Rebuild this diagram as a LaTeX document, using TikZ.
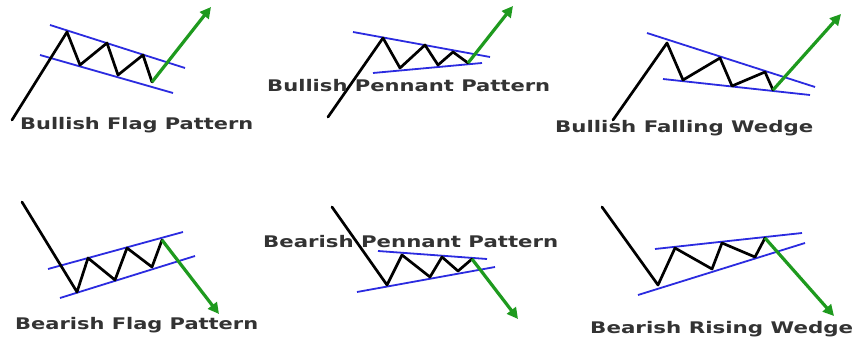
\documentclass[tikz,border=0pt]{standalone}
\usepackage{fontspec}
\setmainfont{DejaVu Sans}
\usetikzlibrary{arrows.meta}
\definecolor{lblue}{HTML}{2B2BE0}
\definecolor{lgreen}{HTML}{1E9A1E}
\definecolor{ltext}{HTML}{333333}
\tikzset{
  price/.style={draw=black, line width=2.7pt, line join=round, line cap=round},
  trend/.style={draw=lblue, line width=1.8pt},
  breakout/.style={draw=lgreen, line width=3.2pt, -{Triangle[length=11pt,width=11pt]}},
  lbl/.style={anchor=base west, inner sep=0pt, text=ltext, font=\bfseries\fontsize{16}{16}\selectfont}
}
\newcommand{\wlabel}[2]{\resizebox{#1}{\height}{#2}}
\begin{document}
\begin{tikzpicture}[x=1pt,y=-1pt]
\useasboundingbox (0,0) rectangle (858,339);
\fill[white] (0,0) rectangle (858,339);

% ---------- Panel 1: Bullish Flag ----------
\coordinate (p1a) at (12,120);
\coordinate (p1b) at (67,32);
\coordinate (p1c) at (80,65);
\coordinate (p1d) at (107,43);
\coordinate (p1e) at (118,75);
\coordinate (p1f) at (143,55);
\coordinate (p1g) at (152,82);
\coordinate (p1t) at (211,7);
\coordinate (p1u1) at (50,25);
\coordinate (p1u2) at (185,68);
\coordinate (p1l1) at (40,55);
\coordinate (p1l2) at (173,93);
\draw[trend] (p1u1) -- (p1u2);
\draw[trend] (p1l1) -- (p1l2);
\draw[price] (p1a) -- (p1b) -- (p1c) -- (p1d) -- (p1e) -- (p1f) -- (p1g);
\draw[breakout] (p1g) -- (p1t);
\node[lbl] (t1) at (20,130) {\wlabel{233pt}{Bullish Flag Pattern}};

% ---------- Panel 2: Bullish Pennant ----------
\coordinate (p2a) at (328,117);
\coordinate (p2b) at (383,38);
\coordinate (p2c) at (400,68);
\coordinate (p2d) at (425,45);
\coordinate (p2e) at (438,65);
\coordinate (p2f) at (453,52);
\coordinate (p2g) at (468,63);
\coordinate (p2t) at (513,6);
\coordinate (p2u1) at (353,32);
\coordinate (p2u2) at (490,57);
\coordinate (p2l1) at (373,73);
\coordinate (p2l2) at (482,63);
\draw[trend] (p2u1) -- (p2u2);
\draw[trend] (p2l1) -- (p2l2);
\draw[price] (p2a) -- (p2b) -- (p2c) -- (p2d) -- (p2e) -- (p2f) -- (p2g);
\draw[breakout] (p2g) -- (p2t);
\node[lbl] (t2) at (267,91.5) {\wlabel{283pt}{Bullish Pennant Pattern}};

% ---------- Panel 3: Bullish Falling Wedge ----------
\coordinate (p3a) at (613,120);
\coordinate (p3b) at (667,43);
\coordinate (p3c) at (683,80);
\coordinate (p3d) at (720,58);
\coordinate (p3e) at (732,86);
\coordinate (p3f) at (765,72);
\coordinate (p3g) at (773,90);
\coordinate (p3t) at (841,14);
\coordinate (p3u1) at (647,33);
\coordinate (p3u2) at (815,87);
\coordinate (p3l1) at (663,79);
\coordinate (p3l2) at (810,95);
\draw[trend] (p3u1) -- (p3u2);
\draw[trend] (p3l1) -- (p3l2);
\draw[price] (p3a) -- (p3b) -- (p3c) -- (p3d) -- (p3e) -- (p3f) -- (p3g);
\draw[breakout] (p3g) -- (p3t);
\node[lbl] (t3) at (555,133) {\wlabel{258pt}{Bullish Falling Wedge}};

% ---------- Panel 4: Bearish Flag ----------
\coordinate (p4a) at (22,202);
\coordinate (p4b) at (77,292);
\coordinate (p4c) at (88,258);
\coordinate (p4d) at (115,280);
\coordinate (p4e) at (127,248);
\coordinate (p4f) at (152,267);
\coordinate (p4g) at (162,240);
\coordinate (p4t) at (219,314);
\coordinate (p4u1) at (48,269);
\coordinate (p4u2) at (183,232);
\coordinate (p4l1) at (60,298);
\coordinate (p4l2) at (195,256);
\draw[trend] (p4u1) -- (p4u2);
\draw[trend] (p4l1) -- (p4l2);
\draw[price] (p4a) -- (p4b) -- (p4c) -- (p4d) -- (p4e) -- (p4f) -- (p4g);
\draw[breakout] (p4g) -- (p4t);
\node[lbl] (t4) at (15,329) {\wlabel{243pt}{Bearish Flag Pattern}};

% ---------- Panel 5: Bearish Pennant ----------
\coordinate (p5a) at (332,207);
\coordinate (p5b) at (387,285);
\coordinate (p5c) at (402,255);
\coordinate (p5d) at (430,277);
\coordinate (p5e) at (442,257);
\coordinate (p5f) at (458,271);
\coordinate (p5g) at (472,259);
\coordinate (p5t) at (518,319);
\coordinate (p5u1) at (378,251);
\coordinate (p5u2) at (487,259);
\coordinate (p5l1) at (357,292);
\coordinate (p5l2) at (495,267);
\draw[trend] (p5u1) -- (p5u2);
\draw[trend] (p5l1) -- (p5l2);
\draw[price] (p5a) -- (p5b) -- (p5c) -- (p5d) -- (p5e) -- (p5f) -- (p5g);
\draw[breakout] (p5g) -- (p5t);
\node[lbl] (t5) at (263,247) {\wlabel{295pt}{Bearish Pennant Pattern}};

% ---------- Panel 6: Bearish Rising Wedge ----------
\coordinate (p6a) at (602,207);
\coordinate (p6b) at (658,285);
\coordinate (p6c) at (675,248);
\coordinate (p6d) at (712,269);
\coordinate (p6e) at (722,243);
\coordinate (p6f) at (755,257);
\coordinate (p6g) at (765,238);
\coordinate (p6t) at (834,316);
\coordinate (p6u1) at (655,249);
\coordinate (p6u2) at (802,233);
\coordinate (p6l1) at (638,295);
\coordinate (p6l2) at (805,243);
\draw[trend] (p6u1) -- (p6u2);
\draw[trend] (p6l1) -- (p6l2);
\draw[price] (p6a) -- (p6b) -- (p6c) -- (p6d) -- (p6e) -- (p6f) -- (p6g);
\draw[breakout] (p6g) -- (p6t);
\node[lbl] (t6) at (590,333) {\wlabel{263pt}{Bearish Rising Wedge}};
\end{tikzpicture}
\end{document}
